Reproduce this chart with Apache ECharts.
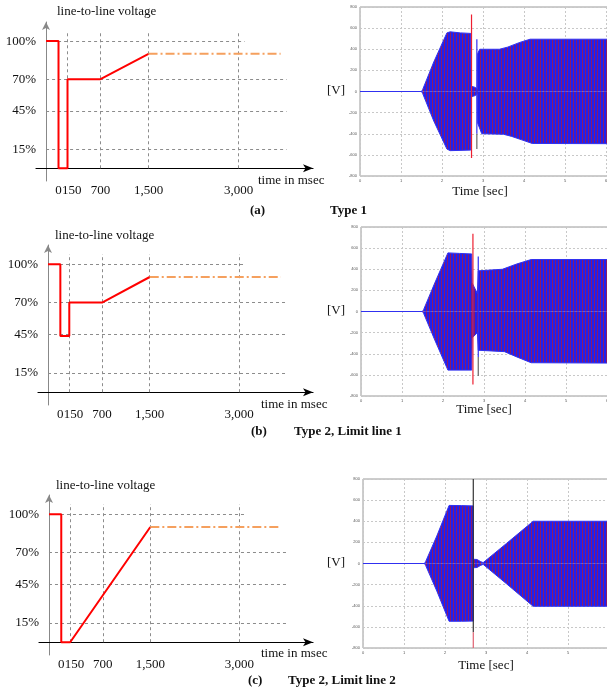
<!DOCTYPE html>
<html>
<head>
<meta charset="utf-8">
<title>Voltage dip profiles</title>
<script src="https://cdn.jsdelivr.net/npm/echarts@6/dist/echarts.min.js"></script>
<style>html,body{margin:0;padding:0;background:#fff;}</style>
</head>
<body>
<div id="main" style="width:607px;height:696px;"></div>
<script>
var chart = echarts.init(document.getElementById('main'));

// left side: required voltage profile, [time in ms, % of line-to-line voltage]
var profileA = [[-207,100],[0,100],[0,0],[150,0],[150,70],[700,70],[1500,90]];
var profileB = [[-207,100],[0,100],[0,44],[150,44],[150,70],[700,70],[1500,90]];
var profileC = [[-207,100],[0,100],[0,0],[150,0],[1500,90]];
var recovery = [[1500,90],[3700,90]];
var timeTicks = [0,150,700,1500,3000];
var levelTicks = [15,45,70,100];
var gridTimes = [150,700,1500,3000];

// right side: envelope of the simulated voltage, [time in s, V]
var upperA = [[0,0],[1.5,0],[1.53,20],[1.8,280],[2.12,555],[2.2,565],[2.45,555],[2.7,550],[2.71,50],[2.8,40],[2.86,25],[2.87,360],[2.92,400],[3.4,400],[3.6,420],[3.9,465],[4.15,495],[7,495]];
var lowerA = [[0,0],[1.5,0],[1.53,-20],[1.8,-280],[2.12,-545],[2.2,-560],[2.7,-555],[2.71,-50],[2.8,-40],[2.86,-25],[2.87,-300],[2.97,-400],[3.5,-405],[3.7,-425],[4.0,-465],[4.2,-492],[7,-495]];
var upperB = [[0,0],[1.5,0],[1.53,20],[1.8,270],[2.12,555],[2.4,550],[2.7,545],[2.71,270],[2.84,170],[2.86,385],[3.45,400],[3.8,450],[4.15,492],[7,492]];
var lowerB = [[0,0],[1.5,0],[1.53,-20],[1.8,-270],[2.12,-555],[2.7,-555],[2.71,-250],[2.84,-200],[2.86,-367],[3.5,-380],[3.8,-430],[4.15,-485],[7,-490]];
var upperC = [[0,0],[1.5,0],[1.53,20],[1.8,260],[2.1,550],[2.4,548],[2.69,545],[2.695,40],[2.78,38],[2.86,20],[2.93,8],[3.5,190],[4.15,400],[7,400]];
var lowerC = [[0,0],[1.5,0],[1.53,-20],[1.8,-260],[2.1,-547],[2.4,-547],[2.69,-545],[2.695,-40],[2.78,-38],[2.86,-20],[2.93,-8],[3.5,-192],[4.15,-405],[7,-405]];
var redSpikeA = [[2.72,730],[2.72,-630]];
var blueSpikeA = [[2.85,495],[2.85,-400]];
var greySpikeA = [[2.85,-400],[2.85,-545]];
var redSpikeB = [[2.73,735],[2.73,-690]];
var blueSpikeB = [[2.86,520],[2.86,-430]];
var greySpikeB = [[2.86,-430],[2.86,-610]];
var greySpikeC = [[2.69,800],[2.69,-650]];
var redSpikeC = [[2.69,-650],[2.69,-800]];

var serif = 'Liberation Serif';

// striped fill that imitates the dense red/blue phase traces
var pat = document.createElement('canvas');
pat.width = 3; pat.height = 2;
var pc = pat.getContext('2d');
pc.fillStyle = '#2020ee'; pc.fillRect(0, 0, 3, 2);
pc.fillStyle = '#8a1a6a'; pc.fillRect(0, 0, 1, 2);

// "0" and "150" sit almost on top of each other: 150 is drawn left-aligned
// in a narrow box so the two labels do not collide
function fmtTime(v) {
    var s = v >= 1000 ? Math.floor(v / 1000) + ',' + ('00' + (v % 1000)).slice(-3) : String(v);
    if (v === 150) return '{r|' + s + '}';
    return s;
}

var gridBase = {outerBoundsMode: 'none', containLabel: false};
function mkGrid(o) { return Object.assign({}, gridBase, o); }
var frame = {show: true, borderColor: '#9a9a9a', borderWidth: 1};
var grids = [
    mkGrid({left: 36, top: 22, width: 277, height: 159}),
    mkGrid(Object.assign({left: 360, top: 7, width: 287, height: 169}, frame)),
    mkGrid({left: 38, top: 245, width: 275, height: 160}),
    mkGrid(Object.assign({left: 361, top: 227, width: 287, height: 169}, frame)),
    mkGrid({left: 39, top: 495, width: 274, height: 160}),
    mkGrid(Object.assign({left: 363, top: 479, width: 287, height: 169}, frame))
];

var xAxes = [], yAxes = [];
function addLeftAxes(g) {
    xAxes.push({
        gridIndex: g, type: 'value', min: -375, max: 4240,
        axisLine: {onZero: true, symbol: ['none', 'arrow'], symbolSize: [6, 10], lineStyle: {color: '#000', width: 1.2}},
        axisTick: {show: false}, splitLine: {show: false},
        axisLabel: {
            customValues: timeTicks, margin: 3, color: '#111', fontFamily: serif, fontSize: 13,
            hideOverlap: false, showMinLabel: true, showMaxLabel: true,
            formatter: fmtTime,
            rich: {r: {width: 11, align: 'left', color: '#111', fontFamily: serif, fontSize: 13}}
        }
    });
    yAxes.push({
        gridIndex: g, type: 'value', min: -10, max: 115, offset: -10,
        axisLine: {onZero: false, symbol: ['none', 'arrow'], symbolSize: [6, 8], lineStyle: {color: '#888', width: 1}},
        axisTick: {show: false}, splitLine: {show: false},
        axisLabel: {customValues: levelTicks, formatter: '{value}%', margin: 10, color: '#111', fontFamily: serif, fontSize: 13}
    });
}
function addRightAxes(g) {
    xAxes.push({
        gridIndex: g, type: 'value', min: 0, max: 7, interval: 1,
        axisLine: {show: false}, axisTick: {show: false},
        splitLine: {lineStyle: {color: '#c8c8c8', type: [2, 2]}},
        axisLabel: {fontSize: 4, color: '#555', margin: 3}
    });
    yAxes.push({
        gridIndex: g, type: 'value', min: -800, max: 800, interval: 200,
        axisLine: {show: false}, axisTick: {show: false},
        splitLine: {lineStyle: {color: '#c8c8c8', type: [2, 2]}},
        axisLabel: {fontSize: 4, color: '#555', margin: 3}
    });
}
addLeftAxes(0); addRightAxes(1);
addLeftAxes(2); addRightAxes(3);
addLeftAxes(4); addRightAxes(5);

var hLineStart = -207, hLineEnd100 = 3100, hLineEnd = 3800, vLineTop = 108;
function gridMarks() {
    var d = [];
    levelTicks.forEach(function (v) {
        d.push([{coord: [hLineStart, v]}, {coord: [v === 100 ? hLineEnd100 : hLineEnd, v]}]);
    });
    gridTimes.forEach(function (t) {
        d.push([{coord: [t, 0]}, {coord: [t, vLineTop]}]);
    });
    return d;
}

var series = [];
function addProfile(g, profile) {
    series.push({
        type: 'line', xAxisIndex: g, yAxisIndex: g, data: [], z: 1, silent: true,
        markLine: {
            z: 1, silent: true, symbol: 'none', label: {show: false},
            lineStyle: {color: '#8c8c8c', type: [3, 3], width: 1},
            emphasis: {disabled: true},
            data: gridMarks()
        }
    });
    series.push({
        type: 'line', xAxisIndex: g, yAxisIndex: g, data: profile, z: 10,
        symbol: 'none', silent: true, lineStyle: {color: '#ff0000', width: 2}
    });
    series.push({
        type: 'line', xAxisIndex: g, yAxisIndex: g, data: recovery, z: 10,
        symbol: 'none', silent: true, lineStyle: {color: '#f5a05e', width: 2, type: [9, 3, 2, 3]}
    });
}
function addEnvelope(g, data) {
    series.push({
        type: 'line', xAxisIndex: g, yAxisIndex: g, data: data, z: 2,
        symbol: 'none', silent: true,
        lineStyle: {color: '#3030f0', width: 1},
        areaStyle: {color: {image: pat, repeat: 'repeat'}, opacity: 1}
    });
}
function addSpike(g, data, color) {
    series.push({
        type: 'line', xAxisIndex: g, yAxisIndex: g, data: data, z: 5,
        symbol: 'none', silent: true, lineStyle: {color: color, width: 1.2}
    });
}

addProfile(0, profileA);
addEnvelope(1, upperA); addEnvelope(1, lowerA);
addSpike(1, redSpikeA, '#ee2030'); addSpike(1, blueSpikeA, '#3030f0'); addSpike(1, greySpikeA, '#666');

addProfile(2, profileB);
addEnvelope(3, upperB); addEnvelope(3, lowerB);
addSpike(3, redSpikeB, '#ee2030'); addSpike(3, blueSpikeB, '#3030f0'); addSpike(3, greySpikeB, '#666');

addProfile(4, profileC);
addEnvelope(5, upperC); addEnvelope(5, lowerC);
addSpike(5, greySpikeC, '#333'); addSpike(5, redSpikeC, '#e06070');

function txt(x, y, s, size, bold, align) {
    return {
        type: 'text', x: x, y: y, silent: true,
        style: {
            text: s, fill: '#111', align: align || 'left', verticalAlign: 'middle',
            font: (bold ? 'bold ' : '') + size + 'px "' + serif + '"'
        }
    };
}
var texts = [
    txt(57, 12, 'line-to-line voltage', 13), txt(258, 181, 'time in msec', 13),
    txt(336, 91, '[V]', 13, false, 'center'), txt(480, 192, 'Time [sec]', 13, false, 'center'),
    txt(250, 211, '(a)', 13, true), txt(330, 211, 'Type 1', 13, true),

    txt(55, 236, 'line-to-line voltage', 13), txt(261, 405, 'time in msec', 13),
    txt(336, 311, '[V]', 13, false, 'center'), txt(484, 410, 'Time [sec]', 13, false, 'center'),
    txt(251, 432, '(b)', 13, true), txt(294, 432, 'Type 2, Limit line 1', 13, true),

    txt(56, 486, 'line-to-line voltage', 13), txt(261, 654, 'time in msec', 13),
    txt(336, 563, '[V]', 13, false, 'center'), txt(486, 666, 'Time [sec]', 13, false, 'center'),
    txt(248, 681, '(c)', 13, true), txt(288, 681, 'Type 2, Limit line 2', 13, true)
];

var option = {
    backgroundColor: '#fff',
    animation: false,
    grid: grids,
    xAxis: xAxes,
    yAxis: yAxes,
    series: series,
    graphic: {elements: texts}
};
chart.setOption(option);
</script>
</body>
</html>
